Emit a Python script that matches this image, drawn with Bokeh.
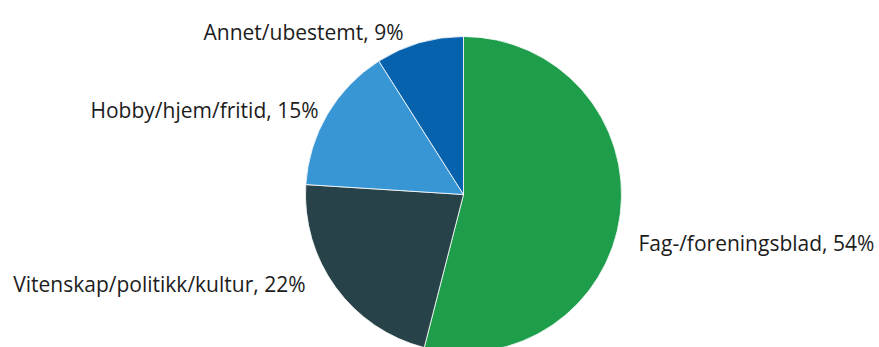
import math
from bokeh.plotting import figure
from bokeh.models import Range1d, ColumnDataSource
from bokeh.core.properties import value
from bokeh.embed import file_html
from bokeh.resources import INLINE

# Data
categories = ["Fag-/foreningsblad", "Vitenskap/politikk/kultur", "Hobby/hjem/fritid", "Annet/ubestemt"]
shares = [54, 22, 15, 9]
colors = ["#1e9d4b", "#274249", "#3896d5", "#0762ae"]

# Layout (screen-pixel coordinates of the page)
W, H = 879, 347
cx, cy, R = 463, 194, 158
label_pos = [(638, 242, "left"), (305, 283, "right"), (318, 109, "right"), (403, 31, "right")]

total = sum(shares)
starts, ends = [], []
a = math.pi / 2
for s in shares:
    starts.append(a)
    a -= 2 * math.pi * s / total
    ends.append(a)

p = figure(width=W, height=H, output_backend="svg", toolbar_location=None,
           x_range=Range1d(0, W), y_range=Range1d(-H, 0),
           min_border=0, outline_line_color=None)
p.axis.visible = False
p.xgrid.visible = False
p.ygrid.visible = False
p.background_fill_color = "white"
p.border_fill_color = "white"

src = ColumnDataSource(dict(start=starts, end=ends, color=colors))
p.wedge(x=cx, y=-cy, radius=R, start_angle="start", end_angle="end",
        direction="clock", fill_color="color", line_color="white", line_width=0.8,
        source=src)

for cat, s, (lx, ly, al) in zip(categories, shares, label_pos):
    p.text(x=[lx], y=[-ly], text=[f"{cat}, {s}%"], text_align=al,
           text_baseline="alphabetic", text_font=value("Open Sans"),
           text_font_size="21px", text_color="#1c1c1c")

open("out.html", "w").write(file_html(p, INLINE))
